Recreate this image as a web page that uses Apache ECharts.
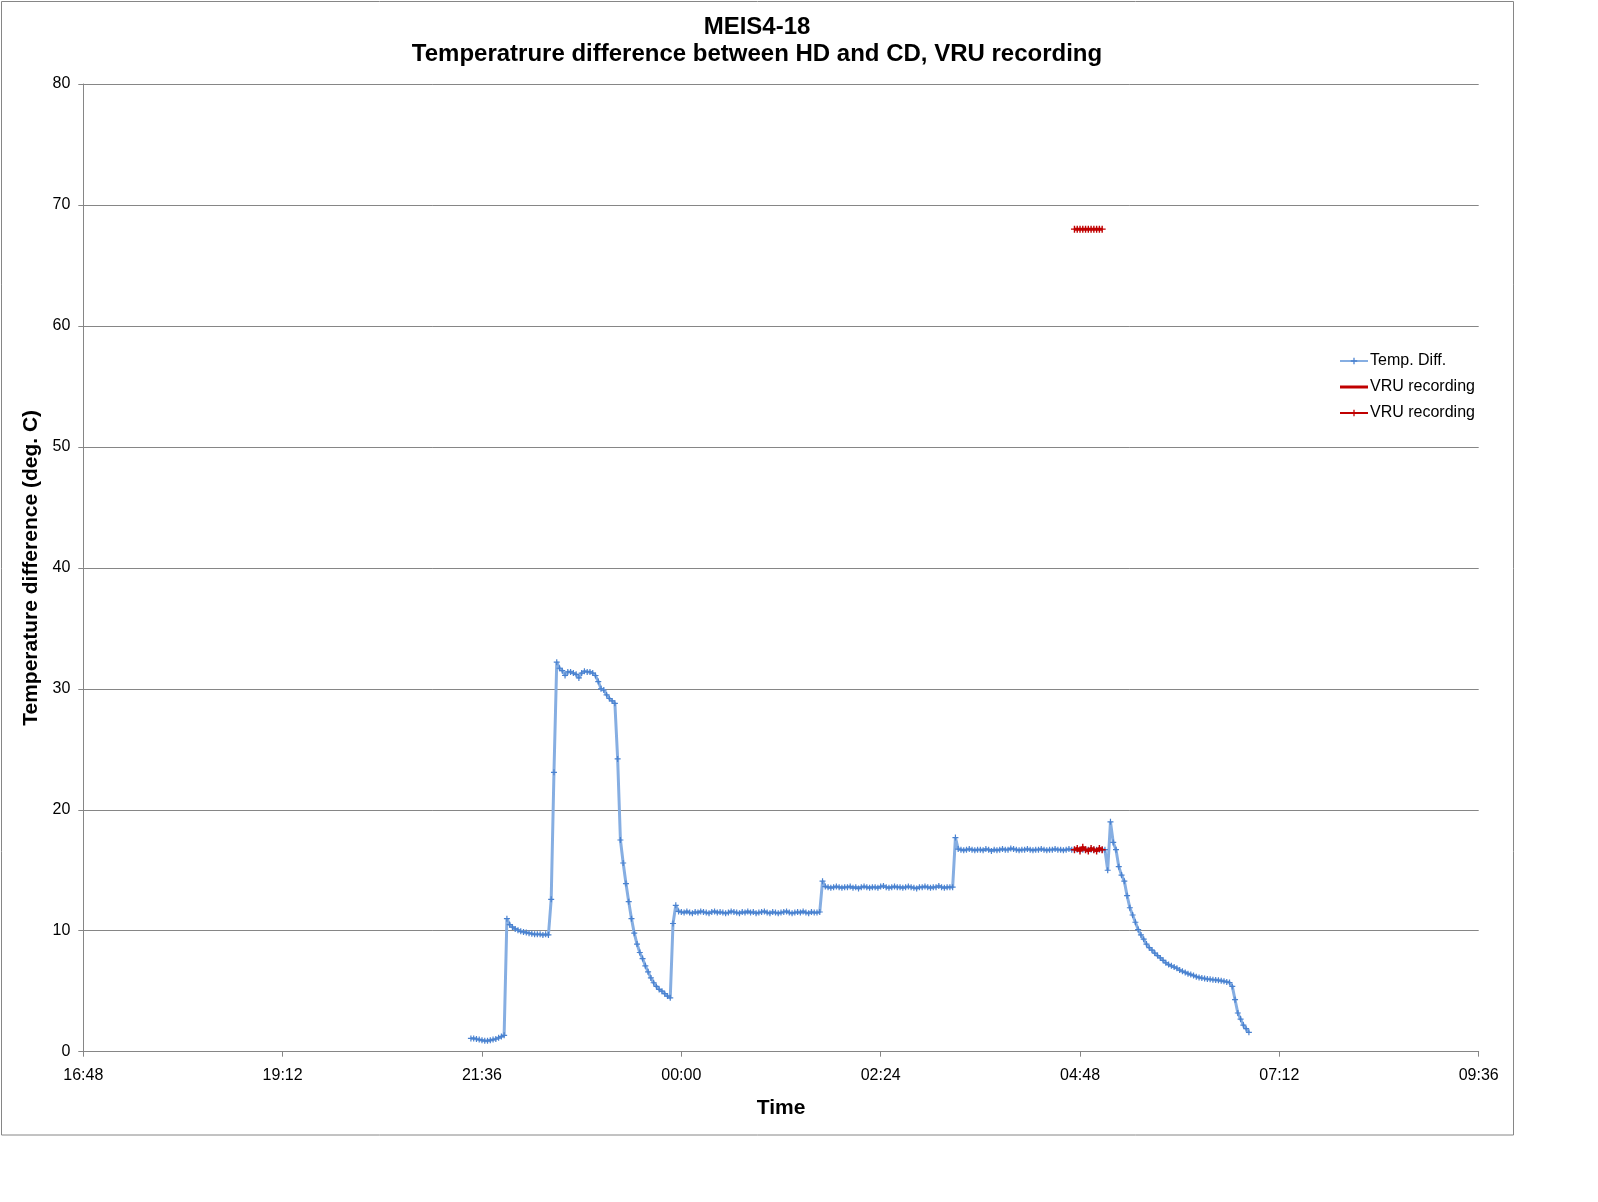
<!DOCTYPE html>
<html>
<head>
<meta charset="utf-8">
<title>MEIS4-18</title>
<script src="https://cdn.jsdelivr.net/npm/echarts@6/dist/echarts.min.js"></script>
<style>
  html, body { margin: 0; padding: 0; background: #fff; }
  #main { width: 1598px; height: 1202px; }
</style>
</head>
<body>
<div id="main"></div>
<script>
// x axis: 16:48 -> 09:36 next day, tick every 2h24m
var xTickLabels = ['16:48', '19:12', '21:36', '00:00', '02:24', '04:48', '07:12', '09:36'];
var axisStartTime = '16:48';
var axisSpanMin = 1008;
var tickStepMin = 144;

// Temp. Diff. samples, one every 2 min from 21:28
var tempStartTime = '21:28';
var tempStepMin = 2;
var tempDiff = [
  // 21:28
  1.1, 1.1, 1.05, 1.0, 0.95, 0.9, 0.9, 0.95, 1.0, 1.05, 1.15, 1.25, 1.35,
  // 21:54
  11.0, 10.5, 10.3, 10.15, 10.05, 9.95, 9.9, 9.85, 9.8, 9.75, 9.7, 9.7, 9.7, 9.65, 9.7, 9.65,
  // 22:26
  12.6, 23.1, 32.2, 31.7, 31.5, 31.1, 31.4, 31.4, 31.3, 31.2,
  30.9, 31.3, 31.45, 31.4, 31.4, 31.3, 31.1, 30.6, 30.0, 29.9,
  29.5, 29.2, 29.0, 28.8,
  // 23:14
  24.2, 17.5, 15.6, 13.9, 12.4, 11.0, 9.8, 8.9, 8.2, 7.7,
  7.1, 6.6, 6.1, 5.7, 5.4, 5.15, 5.0, 4.8, 4.6, 4.45,
  10.6, 12.1, 11.6,
  // 00:00
  11.55, 11.5, 11.6, 11.5, 11.45, 11.55, 11.5, 11.6, 11.55, 11.5,
  11.45, 11.55, 11.6, 11.5, 11.55, 11.5, 11.45, 11.5, 11.6, 11.55,
  11.5, 11.45, 11.55, 11.5, 11.6, 11.5, 11.55, 11.45, 11.5, 11.55,
  11.6, 11.5, 11.45, 11.55, 11.5, 11.45, 11.5, 11.55, 11.6, 11.5,
  11.45, 11.5, 11.55, 11.5, 11.6, 11.5, 11.45, 11.55, 11.5, 11.5,
  11.55,
  // 01:42
  14.1, 13.65,
  13.6, 13.55, 13.6, 13.65, 13.6, 13.55, 13.6, 13.6, 13.65, 13.55,
  13.6, 13.5, 13.6, 13.65, 13.6, 13.55, 13.6, 13.6, 13.55, 13.65,
  13.7, 13.6, 13.55, 13.6, 13.65, 13.6, 13.6, 13.55, 13.6, 13.65,
  13.6, 13.55, 13.5, 13.6, 13.6, 13.65, 13.6, 13.55, 13.6, 13.6,
  13.7, 13.6, 13.55, 13.6, 13.6, 13.6,
  // 03:18
  17.7, 16.75,
  16.7, 16.65, 16.7, 16.75, 16.7, 16.65, 16.7, 16.7, 16.65, 16.75,
  16.7, 16.6, 16.7, 16.65, 16.7, 16.75, 16.7, 16.7, 16.8, 16.75,
  16.7, 16.65, 16.7, 16.7, 16.75, 16.7, 16.65, 16.7, 16.7, 16.75,
  16.7, 16.65, 16.7, 16.7, 16.75, 16.7, 16.7, 16.65, 16.7, 16.75,
  16.7,
  // 04:44
  16.7, 16.7, 16.7, 16.7, 16.7, 16.7, 16.7, 16.7, 16.7, 16.7, 16.7,
  // 05:06
  16.7, 15.0, 19.0, 17.3, 16.7, 15.3, 14.6, 14.1, 12.9, 11.9,
  11.3, 10.7, 10.1, 9.65, 9.3, 8.9, 8.6, 8.4, 8.15, 7.95,
  7.75, 7.55, 7.35, 7.2, 7.1, 7.0, 6.9, 6.75, 6.65, 6.55,
  6.45, 6.38, 6.3, 6.2, 6.14, 6.09, 6.05, 6.0, 5.98, 5.95,
  5.93, 5.9, 5.86, 5.82, 5.77, 5.72, 5.4, 4.3, 3.2, 2.7,
  2.2, 1.9, 1.6
];

// VRU recording, 04:44 - 05:04
var vruStartTime = '04:44';
var vruStepMin = 2;
var vruOnTrace = [16.7, 16.8, 16.6, 16.9, 16.7, 16.6, 16.8, 16.7, 16.6, 16.8, 16.7];
var vruFlag = [68, 68, 68, 68, 68, 68, 68, 68, 68, 68, 68];

var FONT = '"Liberation Sans", Arial, sans-serif';
var PLUS = 'path://M2,0H3V2H5V3H3V5H2V3H0V2H2Z';

function minutesFromStart(hhmm) {
  var p = hhmm.split(':');
  var s = axisStartTime.split(':');
  var m = (+p[0]) * 60 + (+p[1]);
  var m0 = (+s[0]) * 60 + (+s[1]);
  return (m - m0 + 1440) % 1440;
}

function toPairs(startTime, step, values) {
  var t0 = minutesFromStart(startTime);
  return values.map(function (v, i) { return [t0 + i * step, v]; });
}

var chartDom = document.getElementById('main');
var myChart = echarts.init(chartDom);
var option;

option = {
  animation: false,
  backgroundColor: '#fff',
  textStyle: { fontFamily: FONT },
  graphic: [
    {
      type: 'rect',
      silent: true,
      shape: { x: 1.5, y: 1.5, width: 1512, height: 1133.5 },
      style: { fill: 'none', stroke: '#868686', lineWidth: 1 }
    },
    {
      type: 'text',
      x: 757,
      y: 27,
      style: {
        text: 'MEIS4-18',
        align: 'center',
        verticalAlign: 'middle',
        fontSize: 24,
        fontWeight: 'bold',
        fontFamily: FONT,
        fill: '#000'
      }
    },
    {
      type: 'text',
      x: 757,
      y: 54,
      style: {
        text: 'Temperatrure difference between HD and CD, VRU recording',
        align: 'center',
        verticalAlign: 'middle',
        fontSize: 24,
        fontWeight: 'bold',
        fontFamily: FONT,
        fill: '#000'
      }
    }
  ],
  legend: {
    orient: 'vertical',
    left: 1334,
    top: 348,
    itemWidth: 28,
    itemHeight: 8,
    itemGap: 10,
    textStyle: { fontSize: 16, color: '#000', fontFamily: FONT, padding: [0, 0, 0, -3] },
    formatter: function (name) { return name.replace(' (flag)', ''); },
    data: [
      { name: 'Temp. Diff.' },
      { name: 'VRU recording', icon: 'path://M0,0H28V3H0Z' },
      { name: 'VRU recording (flag)' }
    ]
  },
  grid: {
    left: 83.3,
    right: 119.3,
    top: 84,
    bottom: 150.3
  },
  xAxis: {
    type: 'value',
    min: 0,
    max: axisSpanMin,
    interval: tickStepMin,
    name: 'Time',
    nameLocation: 'middle',
    nameGap: 46,
    nameTextStyle: { fontSize: 21, fontWeight: 'bold', color: '#000', fontFamily: FONT },
    axisLine: { show: true, lineStyle: { color: '#868686', width: 1 } },
    axisTick: { show: true, length: 5, lineStyle: { color: '#868686' } },
    axisLabel: {
      margin: 16,
      fontSize: 16,
      color: '#000',
      fontFamily: FONT,
      formatter: function (v) { return xTickLabels[Math.round(v / tickStepMin)]; }
    },
    splitLine: { show: false }
  },
  yAxis: {
    type: 'value',
    min: 0,
    max: 80,
    interval: 10,
    name: 'Temperature difference (deg. C)',
    nameLocation: 'middle',
    nameGap: 42,
    nameTextStyle: { fontSize: 21, fontWeight: 'bold', color: '#000', fontFamily: FONT },
    axisLine: { show: true, lineStyle: { color: '#868686', width: 1 } },
    axisTick: { show: true, length: 5, lineStyle: { color: '#868686' } },
    axisLabel: { margin: 13, fontSize: 16, color: '#000', fontFamily: FONT },
    splitLine: { show: true, lineStyle: { color: '#868686', width: 1 } }
  },
  series: [
    {
      name: 'Temp. Diff.',
      type: 'line',
      data: toPairs(tempStartTime, tempStepMin, tempDiff),
      symbol: PLUS,
      symbolSize: 6,
      lineStyle: { color: '#86AEE2', width: 3 },
      itemStyle: { color: '#4A82D0' },
      z: 2
    },
    {
      name: 'VRU recording',
      type: 'line',
      data: toPairs(vruStartTime, vruStepMin, vruOnTrace),
      symbol: PLUS,
      symbolSize: 7,
      lineStyle: { color: '#C00000', width: 3 },
      itemStyle: { color: '#C00000' },
      z: 3
    },
    {
      name: 'VRU recording (flag)',
      type: 'line',
      data: toPairs(vruStartTime, vruStepMin, vruFlag),
      symbol: PLUS,
      symbolSize: 7,
      lineStyle: { color: '#C00000', width: 3 },
      itemStyle: { color: '#C00000' },
      z: 3
    }
  ]
};

option && myChart.setOption(option);
</script>
</body>
</html>
